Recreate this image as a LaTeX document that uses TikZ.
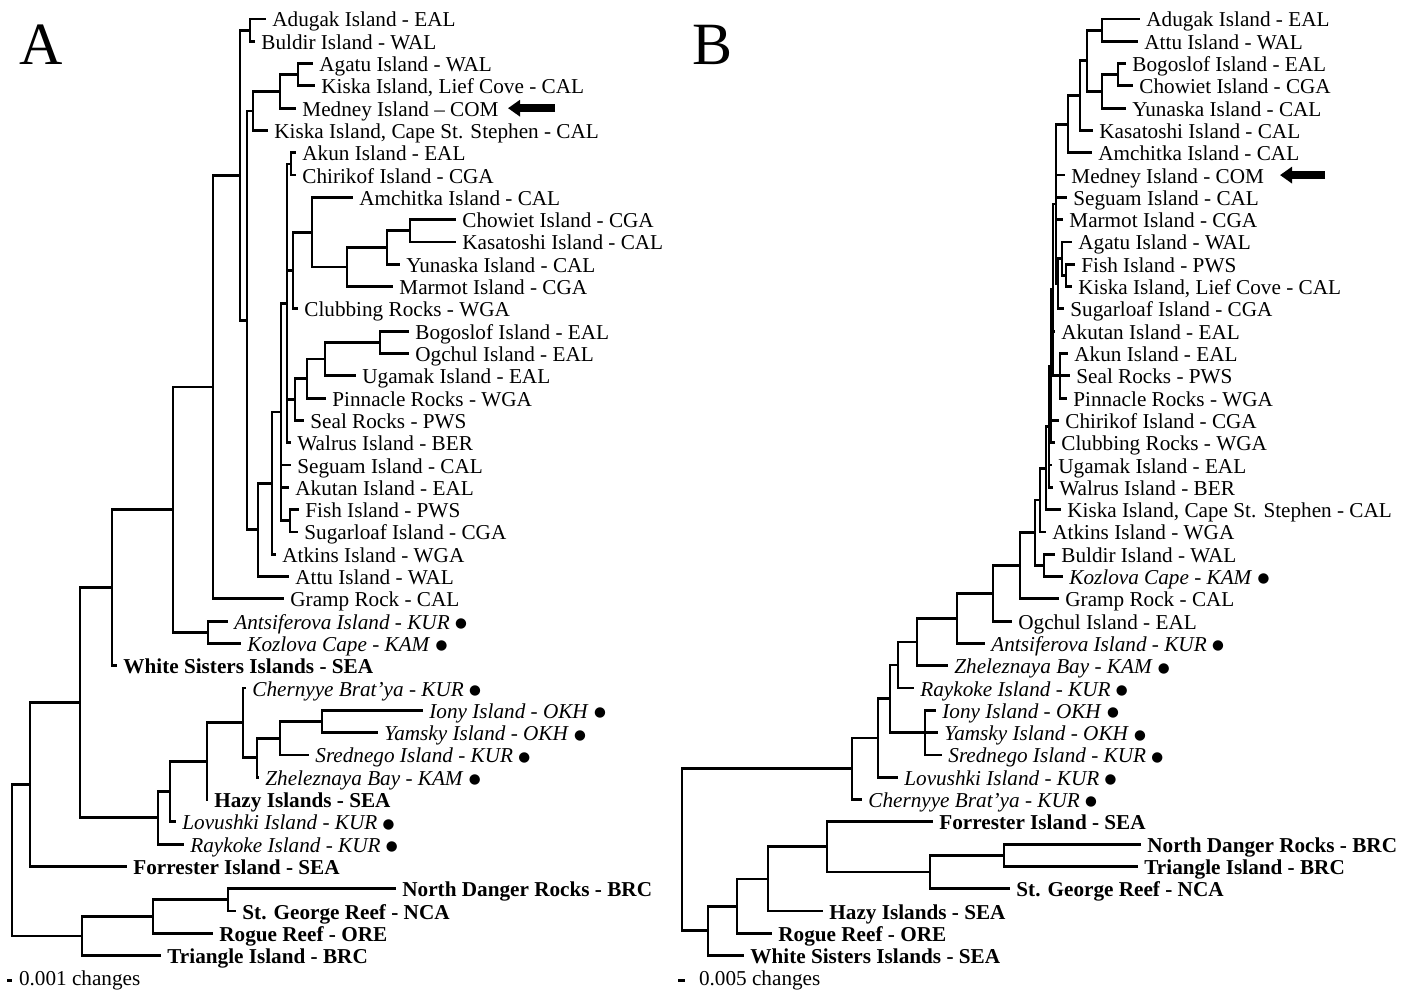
\documentclass[tikz,border=0pt]{standalone}
\usepackage{fontspec}
\setmainfont{Liberation Serif}
\newfontfamily\dotfont{DejaVu Sans}
\usetikzlibrary{arrows.meta}
\newcommand{\kurl}[1]{\textit{#1} \raisebox{0.8pt}{\dotfont\fontsize{6.8}{7}\selectfont ●}}

\begin{document}
\begin{tikzpicture}[x=0.5pt, y=-11.15pt,
    leaf/.style={anchor=west, inner xsep=3pt, inner ysep=0pt, text height=9pt, text depth=1pt, font=\fontsize{10.6}{12}\selectfont},
    branch/.style={line width=1.4pt},
    pointer/.style={line width=4pt, -{Triangle[length=6pt,width=8pt]}},
    panel/.style={font=\fontsize{30}{32}\selectfont},
    scaletext/.style={anchor=west, font=\fontsize{10.6}{12}\selectfont}]

    \useasboundingbox (0,-0.852) rectangle (1411,43.677);

    % Panel letters
    \node[panel] (labA) at (41,1.17) {A};
    \node[panel] (labB) at (712,1.17) {B};

    % Tree A: leaves
    \foreach \n/\x/\r/\t in {
        a-adugak/266/0/{Adugak Island - EAL},
        a-buldir/255/1/{Buldir Island - WAL},
        a-agatu/313/2/{Agatu Island - WAL},
        a-kiskal/315/3/{Kiska Island, Lief Cove - CAL},
        a-medney/296/4/{Medney Island \textendash{} COM},
        a-kiskac/268/5/{Kiska Island, Cape St. Stephen - CAL},
        a-akun/296/6/{Akun Island - EAL},
        a-chirikof/296/7/{Chirikof Island - CGA},
        a-amchitka/353/8/{Amchitka Island - CAL},
        a-chowiet/456/9/{Chowiet Island - CGA},
        a-kasatoshi/456/10/{Kasatoshi Island - CAL},
        a-yunaska/400/11/{Yunaska Island - CAL},
        a-marmot/393/12/{Marmot Island - CGA},
        a-clubbing/298/13/{Clubbing Rocks - WGA},
        a-bogoslof/409/14/{Bogoslof Island - EAL},
        a-ogchul/409/15/{Ogchul Island - EAL},
        a-ugamak/356/16/{Ugamak Island - EAL},
        a-pinnacle/326/17/{Pinnacle Rocks - WGA},
        a-seal/304/18/{Seal Rocks - PWS},
        a-walrus/291/19/{Walrus Island - BER},
        a-seguam/291/20/{Seguam Island - CAL},
        a-akutan/289/21/{Akutan Island - EAL},
        a-fish/299/22/{Fish Island - PWS},
        a-sugarloaf/298/23/{Sugarloaf Island - CGA},
        a-atkins/276/24/{Atkins Island - WGA},
        a-attu/289/25/{Attu Island - WAL},
        a-gramp/284/26/{Gramp Rock - CAL},
        a-antsiferova/228/27/{\kurl{Antsiferova Island - KUR}},
        a-kozlova/241/28/{\kurl{Kozlova Cape - KAM}},
        a-whitesisters/117/29/{\textbf{White Sisters Islands - SEA}},
        a-chernyye/246/30/{\kurl{Chernyye Brat'ya - KUR}},
        a-iony/423/31/{\kurl{Iony Island - OKH}},
        a-yamsky/378/32/{\kurl{Yamsky Island - OKH}},
        a-srednego/309/33/{\kurl{Srednego Island - KUR}},
        a-zheleznaya/259/34/{\kurl{Zheleznaya Bay - KAM}},
        a-hazy/208/35/{\textbf{Hazy Islands - SEA}},
        a-lovushki/176/36/{\kurl{Lovushki Island - KUR}},
        a-raykoke/184/37/{\kurl{Raykoke Island - KUR}},
        a-forrester/127/38/{\textbf{Forrester Island - SEA}},
        a-northdanger/396/39/{\textbf{North Danger Rocks - BRC}},
        a-stgeorge/236/40/{\textbf{St. George Reef - NCA}},
        a-rogue/213/41/{\textbf{Rogue Reef - ORE}},
        a-triangle/161/42/{\textbf{Triangle Island - BRC}}}
        \node[leaf] (\n) at (\x,\r) {\t};

    % Tree A: internal nodes
    \foreach \n/\x/\r in {aAB/250/0.5, aAK/298/2.5, aAKM/280/3.25, aAKMK/253/4.125,
        aAC/291/6.5, aCK/410/9.5, aCKY/387/10.25, aCKYM/347/11.125, aAm/312/9.5625,
        aAmC/293/11.28, aBO/380/14.5, aBOU/325/15.25, aBOUP/307/16.125, aBOUPS/295/17.0625,
        aMid/287/12.75, aFS/290/22.5, aSeg/281/17.625, aAtk/272/20.8125, aAtt/258/22.906,
        aUp/247/13.516, aTop/240/7.008, aGr/213/16.504, aAKz/208/27.5, aAsia/173/22.0,
        aWS/112/25.5, aIY/322/31.5, aIYS/280/32.25, aIYSZ/257/33.125, aChe/243/31.5625,
        aHz/207/33.28, aLov/170/34.64, aRay/158/35.82, aNorth/80/30.66, aFor/30/34.33,
        aNS/228/39.5, aNSR/153/40.25, aNSRT/82/41.125, aRoot/12/37.73}
        \coordinate (\n) at (\x,\r);

    % Tree A: branches
    \foreach \p/\cs in {
        aAB/{a-adugak,a-buldir}, aAK/{a-agatu,a-kiskal}, aAKM/{aAK,a-medney},
        aAKMK/{aAKM,a-kiskac}, aAC/{a-akun,a-chirikof}, aCK/{a-chowiet,a-kasatoshi},
        aCKY/{aCK,a-yunaska}, aCKYM/{aCKY,a-marmot}, aAm/{a-amchitka,aCKYM},
        aAmC/{aAm,a-clubbing}, aBO/{a-bogoslof,a-ogchul}, aBOU/{aBO,a-ugamak},
        aBOUP/{aBOU,a-pinnacle}, aBOUPS/{aBOUP,a-seal}, aMid/{aAC,aAmC,aBOUPS,a-walrus},
        aFS/{a-fish,a-sugarloaf}, aSeg/{aMid,a-seguam,a-akutan,aFS}, aAtk/{aSeg,a-atkins},
        aAtt/{aAtk,a-attu}, aUp/{aAKMK,aAtt}, aTop/{aAB,aUp}, aGr/{aTop,a-gramp},
        aAKz/{a-antsiferova,a-kozlova}, aAsia/{aGr,aAKz}, aWS/{aAsia,a-whitesisters},
        aIY/{a-iony,a-yamsky}, aIYS/{aIY,a-srednego}, aIYSZ/{aIYS,a-zheleznaya},
        aChe/{a-chernyye,aIYSZ}, aHz/{aChe,a-hazy}, aLov/{aHz,a-lovushki},
        aRay/{aLov,a-raykoke}, aNorth/{aWS,aRay}, aFor/{aNorth,a-forrester},
        aNS/{a-northdanger,a-stgeorge}, aNSR/{aNS,a-rogue}, aNSRT/{aNSR,a-triangle},
        aRoot/{aFor,aNSRT}}
        \foreach \c in \cs
            \draw[branch] (\p) |- (\c);

    % Tree B: leaves
    \foreach \n/\x/\r/\t in {
        b-adugak/1140/0/{Adugak Island - EAL},
        b-attu/1138/1/{Attu Island - WAL},
        b-bogoslof/1126/2/{Bogoslof Island - EAL},
        b-chowiet/1133/3/{Chowiet Island - CGA},
        b-yunaska/1126/4/{Yunaska Island - CAL},
        b-kasatoshi/1093/5/{Kasatoshi Island - CAL},
        b-amchitka/1092/6/{Amchitka Island - CAL},
        b-medney/1065/7/{Medney Island - COM},
        b-seguam/1067/8/{Seguam Island - CAL},
        b-marmot/1063/9/{Marmot Island - CGA},
        b-agatu/1072/10/{Agatu Island - WAL},
        b-fish/1075/11/{Fish Island - PWS},
        b-kiskal/1072/12/{Kiska Island, Lief Cove - CAL},
        b-sugarloaf/1064/13/{Sugarloaf Island - CGA},
        b-akutan/1055/14/{Akutan Island - EAL},
        b-akun/1068/15/{Akun Island - EAL},
        b-seal/1070/16/{Seal Rocks - PWS},
        b-pinnacle/1067/17/{Pinnacle Rocks - WGA},
        b-chirikof/1059/18/{Chirikof Island - CGA},
        b-clubbing/1055/19/{Clubbing Rocks - WGA},
        b-ugamak/1052/20/{Ugamak Island - EAL},
        b-walrus/1053/21/{Walrus Island - BER},
        b-kiskac/1061/22/{Kiska Island, Cape St. Stephen - CAL},
        b-atkins/1046/23/{Atkins Island - WGA},
        b-buldir/1055/24/{Buldir Island - WAL},
        b-kozlova/1063/25/{\kurl{Kozlova Cape - KAM}},
        b-gramp/1059/26/{Gramp Rock - CAL},
        b-ogchul/1012/27/{Ogchul Island - EAL},
        b-antsiferova/985/28/{\kurl{Antsiferova Island - KUR}},
        b-zheleznaya/948/29/{\kurl{Zheleznaya Bay - KAM}},
        b-raykoke/914/30/{\kurl{Raykoke Island - KUR}},
        b-iony/936/31/{\kurl{Iony Island - OKH}},
        b-yamsky/938/32/{\kurl{Yamsky Island - OKH}},
        b-srednego/942/33/{\kurl{Srednego Island - KUR}},
        b-lovushki/898/34/{\kurl{Lovushki Island - KUR}},
        b-chernyye/862/35/{\kurl{Chernyye Brat'ya - KUR}},
        b-forrester/933/36/{\textbf{Forrester Island - SEA}},
        b-northdanger/1141/37/{\textbf{North Danger Rocks - BRC}},
        b-triangle/1138/38/{\textbf{Triangle Island - BRC}},
        b-stgeorge/1010/39/{\textbf{St. George Reef - NCA}},
        b-hazy/823/40/{\textbf{Hazy Islands - SEA}},
        b-rogue/772/41/{\textbf{Rogue Reef - ORE}},
        b-whitesisters/744/42/{\textbf{White Sisters Islands - SEA}}}
        \node[leaf] (\n) at (\x,\r) {\t};

    % Tree B: internal nodes
    \foreach \n/\x/\r in {bAA/1102/0.5, bBC/1118/2.5, bBCY/1102/3.25, bAABCY/1087/1.875,
        bK/1080/3.4375, bAm/1068/4.71875, bFK/1066/11.5, bAFK/1062/10.75, bAFKS/1058/11.875,
        bCore/1056/8.297, bASP/1060/16, bL1/1053/12.148, bL2/1051/15.574, bL3/1049/18.287,
        bL4/1046/20.143, bAtk/1040/21.572, bBK/1044/24.5, bBu/1035/23.036, bGr/1020/24.518,
        bOg/993/25.759, bAn/957/26.880, bZh/917/27.94, bRa/898/28.97, bIYS/925/32,
        bKur/890/30.485, bLov/878/32.24, bChe/852/33.62, bNT/1004/37.5, bNTS/930/38.25,
        bF/827/37.125, bHz/768/38.5625, bRg/737/39.78, bWS/708/40.89, bRoot/682/37.255}
        \coordinate (\n) at (\x,\r);

    % Tree B: branches
    \foreach \p/\cs in {
        bAA/{b-adugak,b-attu}, bBC/{b-bogoslof,b-chowiet}, bBCY/{bBC,b-yunaska},
        bAABCY/{bAA,bBCY}, bK/{bAABCY,b-kasatoshi}, bAm/{bK,b-amchitka},
        bFK/{b-fish,b-kiskal}, bAFK/{b-agatu,bFK}, bAFKS/{bAFK,b-sugarloaf},
        bCore/{bAm,b-medney,b-seguam,b-marmot,bAFKS}, bASP/{b-akun,b-seal,b-pinnacle},
        bL1/{bCore,b-akutan,bASP}, bL2/{bL1,b-chirikof,b-clubbing},
        bL3/{bL2,b-ugamak,b-walrus}, bL4/{bL3,b-kiskac}, bAtk/{bL4,b-atkins},
        bBK/{b-buldir,b-kozlova}, bBu/{bAtk,bBK}, bGr/{bBu,b-gramp}, bOg/{bGr,b-ogchul},
        bAn/{bOg,b-antsiferova}, bZh/{bAn,b-zheleznaya}, bRa/{bZh,b-raykoke},
        bIYS/{b-iony,b-yamsky,b-srednego}, bKur/{bRa,bIYS}, bLov/{bKur,b-lovushki},
        bChe/{bLov,b-chernyye}, bNT/{b-northdanger,b-triangle}, bNTS/{bNT,b-stgeorge},
        bF/{b-forrester,bNTS}, bHz/{bF,b-hazy}, bRg/{bHz,b-rogue}, bWS/{bRg,b-whitesisters},
        bRoot/{bChe,bWS}}
        \foreach \c in \cs
            \draw[branch] (\p) |- (\c);

    % Arrows to Medney Island
    \coordinate (arrA-s) at (555,4);
    \coordinate (arrA-e) at (508,4);
    \draw[pointer] (arrA-s) -- (arrA-e);
    \coordinate (arrB-s) at (1325,7);
    \coordinate (arrB-e) at (1280,7);
    \draw[pointer] (arrB-s) -- (arrB-e);

    % Scale bars
    \coordinate (sbA-l) at (7,43.1);
    \coordinate (sbA-r) at (12,43.1);
    \draw[branch] (sbA-l) -- (sbA-r);
    \node[scaletext] (scA) at (12,43.1) {0.001 changes};
    \coordinate (sbB-l) at (678,43.1);
    \coordinate (sbB-r) at (685,43.1);
    \draw[branch] (sbB-l) -- (sbB-r);
    \node[scaletext] (scB) at (692,43.1) {0.005 changes};

\end{tikzpicture}
\end{document}
